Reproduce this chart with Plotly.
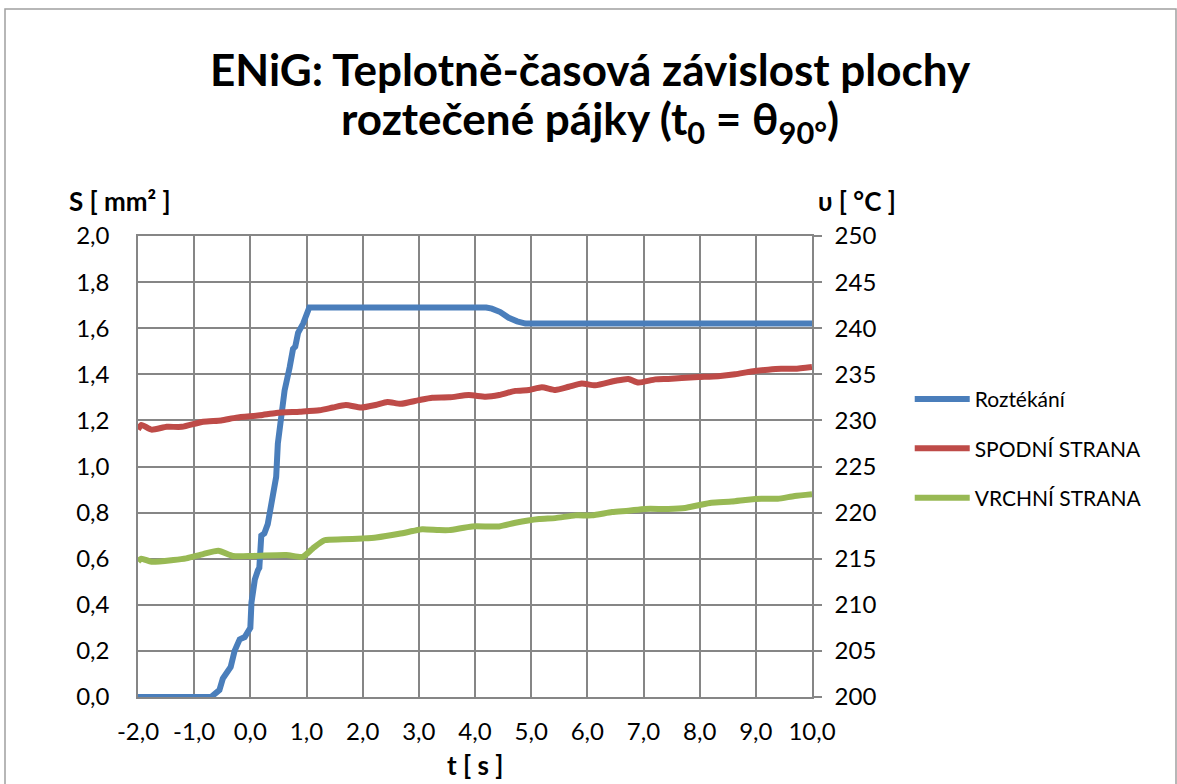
import plotly.graph_objects as go

# ---- data ----
t_roztekani = [-2.0, -0.7, -0.6, -0.55, -0.49, -0.40, -0.35, -0.28, -0.19, -0.10, -0.04, 0.0,
               0.02, 0.05, 0.08, 0.135, 0.16, 0.195, 0.25, 0.31, 0.37, 0.42, 0.46, 0.49,
               0.55, 0.61, 0.70, 0.76, 0.80, 0.85, 0.94, 1.02, 1.05, 4.2, 4.3, 4.45, 4.6,
               4.75, 4.9, 10.0]
s_roztekani = [0.0, 0.0, 0.02, 0.03, 0.08, 0.12, 0.13, 0.20, 0.25, 0.26, 0.28, 0.30,
               0.41, 0.50, 0.51, 0.55, 0.56, 0.70, 0.71, 0.75, 0.84, 0.90, 0.955, 1.10,
               1.245, 1.33, 1.43, 1.51, 1.52, 1.58, 1.62, 1.68, 1.69, 1.69, 1.685, 1.67,
               1.645, 1.63, 1.62, 1.62]

t_spodni = [-2.0, -1.94, -1.76, -1.49, -1.22, -0.84, -0.52, -0.25, 0.17, 0.46, 0.88, 1.23,
            1.47, 1.70, 1.97, 2.23, 2.44, 2.68, 3.0, 3.24, 3.54, 3.89, 4.19, 4.43, 4.72,
            4.96, 5.19, 5.43, 5.67, 5.9, 6.14, 6.5, 6.73, 6.91, 7.21, 7.44, 7.68, 7.98,
            8.33, 8.63, 8.92, 9.22, 9.45, 9.69, 10.0]
v_spodni = [229.0, 229.5, 229.0, 229.3, 229.3, 229.86, 230.0, 230.3, 230.55, 230.8, 230.95,
            231.1, 231.4, 231.67, 231.4, 231.67, 232.0, 231.8, 232.2, 232.46, 232.5, 232.75,
            232.57, 232.75, 233.2, 233.3, 233.6, 233.3, 233.65, 234.0, 233.8, 234.3, 234.5,
            234.1, 234.45, 234.5, 234.6, 234.7, 234.8, 235.0, 235.3, 235.5, 235.6, 235.6,
            235.8]

t_vrchni = [-2.0, -1.94, -1.76, -1.37, -1.14, -0.84, -0.57, -0.31, 0.05, 0.64, 0.93, 1.11,
            1.32, 1.64, 2.0, 2.24, 2.65, 2.89, 3.06, 3.36, 3.54, 3.95, 4.43, 4.72, 5.14,
            5.43, 5.79, 6.08, 6.44, 6.73, 7.03, 7.44, 7.74, 7.98, 8.21, 8.57, 8.86, 9.1,
            9.39, 9.69, 10.0]
v_vrchni = [214.7, 215.0, 214.67, 214.86, 215.04, 215.5, 215.87, 215.3, 215.3, 215.4, 215.2,
            216.1, 217.0, 217.1, 217.2, 217.3, 217.7, 218.0, 218.2, 218.1, 218.1, 218.5,
            218.5, 218.9, 219.3, 219.4, 219.7, 219.7, 220.06, 220.2, 220.4, 220.4, 220.5,
            220.8, 221.07, 221.2, 221.4, 221.5, 221.5, 221.8, 222.0]

x_ticks = [-2, -1, 0, 1, 2, 3, 4, 5, 6, 7, 8, 9, 10]
x_tick_labels = ["-2,0", "-1,0", "0,0", "1,0", "2,0", "3,0", "4,0", "5,0", "6,0",
                 "7,0", "8,0", "9,0", "10,0"]

FONT = "Lato"
GRID = "#868686"

fig = go.Figure()
fig.add_trace(go.Scatter(x=t_roztekani, y=s_roztekani, name="Roztékání", mode="lines",
                         line=dict(color="#4A7EBB", width=6), cliponaxis=False,
                         legendgroup="a"))
fig.add_trace(go.Scatter(x=t_spodni, y=v_spodni, name="SPODNÍ STRANA", mode="lines",
                         line=dict(color="#BE4B48", width=6, shape="spline", smoothing=0.6),
                         yaxis="y2", legendgroup="b"))
fig.add_trace(go.Scatter(x=t_vrchni, y=v_vrchni, name="VRCHNÍ STRANA", mode="lines",
                         line=dict(color="#98B954", width=6, shape="spline", smoothing=0.6),
                         yaxis="y2", legendgroup="c"))

fig.update_layout(
    width=1177, height=784,
    margin=dict(l=138, r=365, t=236, b=87),
    paper_bgcolor="white", plot_bgcolor="white",
    separators=", ",
    font=dict(family=FONT, size=24, color="black"),
    showlegend=True,
    legend=dict(x=1.145, y=0.69, xanchor="left", yanchor="top",
                font=dict(family=FONT, size=21, color="black"),
                itemwidth=55, tracegroupgap=19, traceorder="grouped",
                bgcolor="rgba(0,0,0,0)"),
    xaxis=dict(range=[-2, 10], tickvals=x_ticks, ticktext=x_tick_labels,
               showgrid=True, gridcolor=GRID, gridwidth=1.5,
               showline=True, linecolor=GRID, linewidth=1.5, mirror=True,
               ticks="", ticklabelstandoff=12, zeroline=False,
               tickfont=dict(family=FONT, size=24)),
    yaxis=dict(range=[0, 2], dtick=0.2, tickformat=".1f",
               showgrid=True, gridcolor=GRID, gridwidth=1.5,
               showline=True, linecolor=GRID, linewidth=1.5,
               ticks="", ticklabelstandoff=22, zeroline=False,
               tickfont=dict(family=FONT, size=24)),
    yaxis2=dict(range=[200, 250], dtick=5, overlaying="y", side="right",
                showgrid=False, showline=True, linecolor=GRID, linewidth=1.5,
                ticks="outside", ticklen=8, tickcolor=GRID, tickwidth=1.5,
                ticklabelstandoff=8, zeroline=False,
                tickfont=dict(family=FONT, size=24)),
)

# title lines
fig.add_annotation(text="<b>ENiG: Teplotně-časová závislost plochy</b>",
                   xref="paper", yref="paper", x=(590 - 138) / 674, y=(697 - 69) / 461,
                   showarrow=False, font=dict(family=FONT, size=44, color="black"),
                   xanchor="center", yanchor="middle")
fig.add_annotation(text="<b>roztečené pájky (t<sub>0</sub> = θ<sub>90°</sub>)</b>",
                   xref="paper", yref="paper", x=(590 - 138) / 674, y=(697 - 121) / 461,
                   showarrow=False, font=dict(family=FONT, size=44, color="black"),
                   xanchor="center", yanchor="middle")
# axis titles
fig.add_annotation(text="<b>S [ mm² ]</b>", xref="paper", yref="paper",
                   x=(120 - 138) / 674, y=(697 - 201) / 461, showarrow=False,
                   font=dict(family=FONT, size=26), xanchor="center", yanchor="middle")
fig.add_annotation(text="<b>υ [ °C ]</b>", xref="paper", yref="paper",
                   x=(857 - 138) / 674, y=(697 - 201) / 461, showarrow=False,
                   font=dict(family=FONT, size=26), xanchor="center", yanchor="middle")
fig.add_annotation(text="<b>t [ s ]</b>", xref="paper", yref="paper",
                   x=(475 - 138) / 674, y=(697 - 765) / 461, showarrow=False,
                   font=dict(family=FONT, size=26), xanchor="center", yanchor="middle")

# outer chart border
fig.add_shape(type="rect", xref="paper", yref="paper",
              x0=(5 - 138) / 674, x1=(1176 - 138) / 674,
              y0=(697 - 800) / 461, y1=(697 - 9) / 461,
              line=dict(color="#A0A0A0", width=1.5), fillcolor="rgba(0,0,0,0)", layer="below")

fig.write_html("out.html", config={"displayModeBar": False},
               post_script="document.body.style.margin='0';document.body.style.overflow='hidden';")
